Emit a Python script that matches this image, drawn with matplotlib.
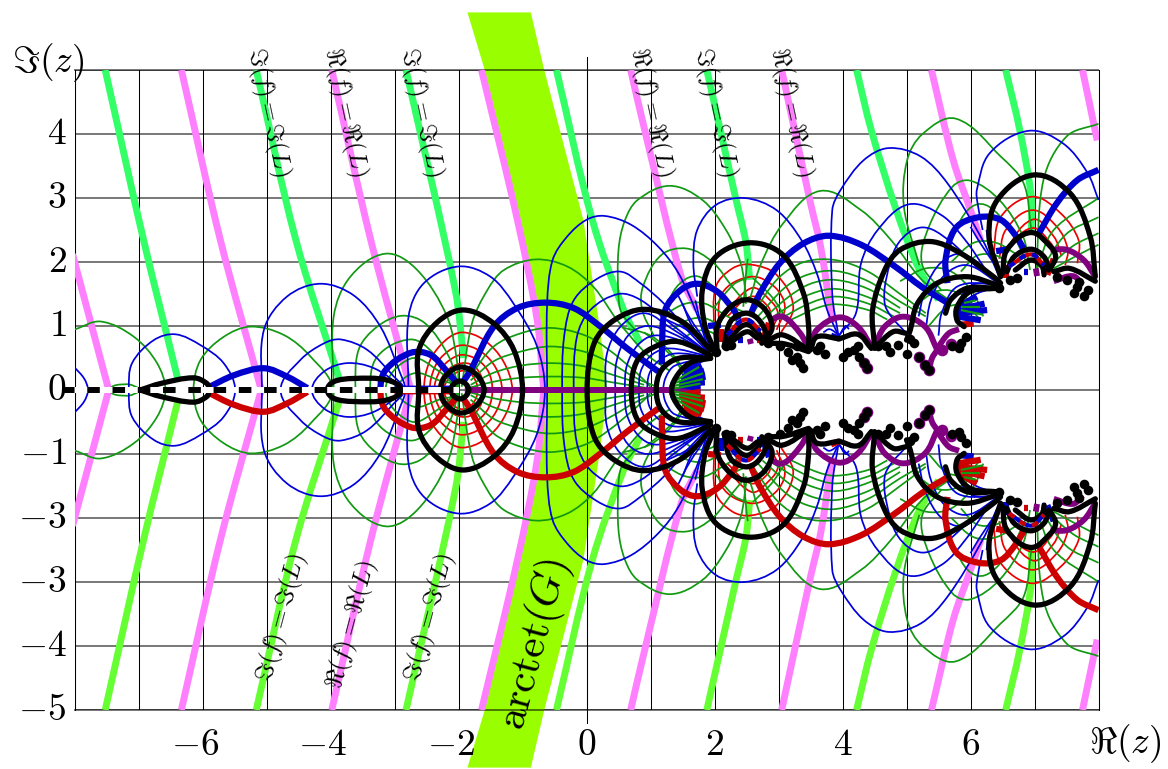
import math

import matplotlib
matplotlib.use('Agg')
import matplotlib.pyplot as plt
from matplotlib.patches import PathPatch, Polygon
from matplotlib.path import Path

plt.rcParams['mathtext.fontset'] = 'cm'
plt.rcParams['font.family'] = ['cmr10', 'DejaVu Serif']
plt.rcParams['axes.formatter.use_mathtext'] = True

# ---------------------------------------------------------------------------
# Data (upper half plane, the lower half is its mirror)
# ---------------------------------------------------------------------------
X_TICKS = [-6, -4, -2, 0, 2, 4, 6]
X_TICK_LABELS = ['$-6$', '$-4$', '$-2$', '$0$', '$2$', '$4$', '$6$']
Y_TICKS = [4, 3, 2, 1, 0, -1, -2, -3, -4, -5]
Y_TICK_LABELS = ['$4$', '$3$', '$2$', '$1$', '$0$', '$-1$', '$-3$', '$-3$', '$-4$', '$-5$']

BAND_LEFT = [(-1.86, 5.9), (-1.59, 5.0), (-1.03, 2.66), (-.72, 1.09), (-.62, 0)]
BAND_RIGHT = [(-.87, 5.9), (-.66, 5.0), (-.17, 3.12), (-.05, 2.66), (.19, 1.09), (.33, 0)]

# straight-ish level lines far from the real axis
PINK_LINES = [
    [(-8.03, 2.12), (-7.47, 0.02)],
    [(-6.33, 5.0), (-5.72, 2.34), (-5.09, 0.03)],
    [(-3.98, 5.0), (-3.37, 2.34), (-2.75, 0.02)],
    [(-1.64, 5.0), (-1.08, 2.66), (-.77, 1.09), (-.67, 0.02)],
    [(.69, 5.0), (.91, 4.06), (1.48, 1.77), (1.73, 1.25)],
    [(3.05, 5.0), (3.5, 2.92), (3.66, 2.23), (3.84, 1.05)],
    [(5.39, 5.0), (5.73, 3.59), (6.0, 2.81), (6.16, 2.34)],
    [(7.75, 5.0), (7.98, 3.9)],
]
GREEN_LINES = [
    [(-7.52, 5.0), (-6.92, 2.34), (-6.39, 0.19)],
    [(-5.16, 5.0), (-4.54, 2.34), (-3.87, 0.19)],
    [(-2.82, 5.0), (-2.05, 1.56), (-1.92, 0.5)],
    [(-.47, 5.0), (.09, 2.66), (.58, 1.25), (.84, .73)],
    [(1.88, 5.0), (2.33, 3.0), (2.49, 2.31), (2.55, 1.72)],
    [(4.22, 5.0), (4.45, 4.06), (4.83, 2.84), (5.2, 1.88), (5.5, 1.41)],
    [(6.55, 5.0), (6.77, 4.06), (6.95, 3.02), (6.95, 2.5)],
]

# thin contours
THIN_BLUE = [
    [(-8.01, .365), (-7.85, .18), (-7.79, 0)],
    [(-7.15, 0), (-7.10, .42), (-6.76, .78), (-6.42, .87), (-6.03, .70), (-5.67, .42), (-5.49, 0)],
    [(-5.07, 0), (-5.04, .94), (-4.68, 1.46), (-4.16, 1.66), (-3.64, 1.48), (-3.22, .99), (-2.91, .26), (-2.83, 0)],
    [(-4.78, 0), (-4.47, .47), (-4.10, .73), (-3.84, .79), (-3.43, .63), (-3.01, .21), (-2.85, 0)],
    [(-4.29, 0), (-4.10, .29), (-3.74, .42), (-3.32, .34), (-2.85, .03)],
    [(-2.78, 0), (-2.78, 1.15), (-2.54, 1.67), (-2.0, 1.93), (-1.5, 1.77), (-1.14, 1.35), (-.78, .7), (-.65, 0)],
    [(-.615, 0), (-.615, 1.35), (-.53, 2.03), (-.3, 2.4), (0, 2.66), (.28, 2.72), (.7, 2.58), (1.12, 2.24), (1.44, 1.82), (1.72, 1.2), (1.9, .65)],
    [(-.38, 0), (-.35, .83), (-.2, 1.4), (.17, 1.74), (.53, 1.85), (.84, 1.67), (1.21, 1.35), (1.62, .885), (1.9, .6)],
    [(-.2, 0), (-.15, .83), (.06, 1.25), (.5, 1.5), (.84, 1.41), (1.31, 1.04), (1.85, .62)],
    [(.3, 0), (.32, .57), (.53, .99), (.9, 1.2), (1.3, .98), (1.88, .6)],
    [(.45, 0), (.47, .45), (.65, .85), (.95, 1.0), (1.35, .88), (1.9, .58)],
    [(.6, 0), (.63, .38), (.8, .7), (1.05, .85), (1.45, .78), (1.9, .56)],
    [(.82, 0), (.85, .3), (1.02, .55), (1.3, .65), (1.9, .53)],
    [(.95, 0), (.98, .25), (1.12, .45), (1.38, .57), (1.9, .52)],
    [(1.2, 0), (1.24, .2), (1.38, .38), (1.9, .5)],
    [(1.3, 0), (1.34, .14), (1.48, .3), (1.9, .48)],
    [(1.73, 1.46), (1.67, 1.98), (1.73, 2.5), (2.02, 2.89), (2.47, 3.0), (2.97, 2.81), (3.36, 2.34), (3.6, 1.82), (3.76, 1.25), (3.92, .885)],
    [(3.94, .83), (3.84, 1.5), (3.84, 2.81), (3.97, 3.125), (4.33, 3.59), (4.72, 3.78), (5.22, 3.65), (5.64, 3.23), (6.19, 2.34), (6.45, 1.77)],
    [(3.94, .85), (4.21, 1.2), (4.29, 1.98), (4.55, 2.5), (5.03, 2.9), (5.55, 2.73), (5.92, 2.34), (6.24, 1.875)],
    [(5.0, .885), (4.76, 1.15), (4.66, 1.35), (4.68, 1.72), (4.87, 2.29), (5.24, 2.54), (5.66, 2.34), (6.14, 1.875)],
    [(1.42, 1.5), (1.6, 1.15), (1.9, .7)],
    [(1.5, 1.35), (1.65, 1.0), (1.9, .7)],
    [(1.7, 1.4), (1.8, 1.0), (1.92, .7)],
    [(1.25, 1.1), (1.55, .95), (1.92, .68)],
    [(5.19, 1.15), (5.3, 1.6), (5.55, 2.0), (5.9, 2.12), (6.42, 1.7)],
    [(5.3, .95), (5.38, 1.4), (5.6, 1.8), (5.95, 1.95), (6.42, 1.68)],
    [(5.5, .85), (5.55, 1.2), (5.8, 1.62), (6.42, 1.66)],
    [(5.78, 1.2), (5.85, 1.45), (6.05, 1.65), (6.42, 1.65)],
    [(5.9, 1.25), (6.0, 1.45), (6.42, 1.62)],
    [(6.19, 2.5), (6.11, 2.92), (6.1, 3.13), (6.3, 3.7), (6.91, 4.05), (7.45, 3.85), (7.83, 3.39), (8.0, 2.97)],
    [(3.7, .9), (3.8, .95), (3.95, .85)],
    [(4.1, .95), (4.05, 1.0), (3.95, .85)],
    [(6.0, 2.55), (6.15, 2.3), (6.42, 1.9)],
    [(6.25, 2.5), (6.3, 2.2), (6.45, 1.85)],
]
THIN_GREEN = [
    [(-8.01, .94), (-7.59, 1.07), (-7.07, .83), (-6.71, .42), (-6.58, 0)],
    [(-7.44, 0), (-7.18, .09), (-6.97, .02)],
    [(-6.14, 0), (-6.03, .47), (-5.67, .83), (-5.25, .99), (-4.73, .86), (-4.31, .52), (-3.97, 0)],
    [(-3.95, 0), (-3.95, 1.15), (-3.69, 1.77), (-3.14, 2.13), (-2.65, 1.88), (-2.18, 1.15), (-2.02, .42), (-2.0, 0)],
    [(-3.61, 0), (-3.56, .63), (-3.27, .99), (-2.88, 1.16), (-2.52, 1.04), (-2.15, .52), (-2.0, .05)],
    [(-3.38, 0), (-3.27, .52), (-2.75, .79), (-2.39, .57), (-2.0, .03)],
    [(-3.14, 0), (-2.75, .49), (-2.33, .31), (-2.0, .01)],
    [(-2.96, 0), (-2.7, .26), (-2.33, .16), (-2.0, 0)],
    [(-1.95, .05), (-1.79, 1.04), (-1.55, 1.56), (-1.29, 1.875), (-.8, 2.04), (-.3, 1.93), (.11, 1.61), (.48, 1.09), (.95, .55), (1.3, .3)],
    [(-1.81, .23), (-1.45, .68), (-1.03, .885), (-.56, .97), (-.04, .86), (.32, .65), (.79, .26), (1.0, .05)],
    [(-1.81, .15), (-1.45, .45), (-1.03, .6), (-.56, .68), (-.04, .6), (.32, .45), (.79, .18), (1.1, .05)],
    [(-1.81, .08), (-1.45, .27), (-1.03, .38), (-.56, .42), (-.04, .37), (.4, .24), (.9, .08)],
    [(-1.85, .03), (-1.45, .13), (-1.03, .19), (-.56, .21), (-.04, .19), (.4, .12), (.95, .03)],
    [(.75, .95), (.55, 1.2), (.5, 1.46), (.5, 2.19), (.6, 2.65), (.8, 2.97), (1.3, 3.19), (1.81, 2.97), (2.18, 2.5), (2.41, 1.98), (2.5, 1.41)],
    [(1.05, .85), (.87, 1.25), (.88, 1.61), (1.17, 2.11), (1.57, 2.21), (1.97, 2.0), (2.28, 1.61), (2.5, 1.35)],
    [(1.2, 1.15), (1.4, 1.6), (1.7, 1.78), (2.0, 1.6), (2.3, 1.3), (2.5, 1.2)],
    [(.55, .98), (1.0, .85), (1.35, .55), (1.55, .25), (1.62, 0)],
    [(.9, .9), (1.15, .7), (1.4, .45), (1.55, .15)],
    [(1.25, 1.2), (1.55, 1.35), (1.85, 1.35), (2.2, 1.15), (2.4, 1.05)],
    [(1.35, .95), (1.6, 1.1), (1.85, 1.12), (2.1, 1.0)],
    [(1.5, .8), (1.7, .92), (1.9, .92), (2.05, .85)],
    [(2.55, 1.41), (2.73, 1.98), (3.07, 2.6), (3.65, 3.11), (4.29, 2.81), (4.76, 2.34), (5.24, 1.72), (5.66, 1.41)],
    [(2.6, 1.2), (3.0, 1.75), (3.4, 2.0), (3.89, 2.03), (4.4, 1.85), (4.9, 1.5), (5.3, 1.2)],
    [(2.68, 1.15), (3.1, 1.6), (3.45, 1.8), (3.89, 1.86), (4.4, 1.7), (4.9, 1.38), (5.3, 1.15)],
    [(2.75, 1.1), (3.15, 1.45), (3.5, 1.66), (3.89, 1.72), (4.4, 1.58), (4.9, 1.28)],
    [(2.85, 1.1), (3.2, 1.33), (3.5, 1.5), (3.89, 1.58), (4.4, 1.45), (4.9, 1.2)],
    [(3.0, 1.1), (3.5, 1.36), (3.89, 1.46), (4.4, 1.35), (4.8, 1.15)],
    [(3.2, 1.1), (3.6, 1.28), (3.89, 1.34), (4.4, 1.25), (4.7, 1.1)],
    [(5.2, 1.95), (4.96, 2.86), (5.01, 3.59), (5.25, 4.0), (5.77, 4.24), (6.47, 3.65), (6.83, 3.23), (6.95, 2.5)],
    [(5.55, 1.55), (5.24, 1.98), (5.35, 2.55), (5.72, 3.18), (6.0, 3.27), (6.45, 2.97), (6.82, 2.4), (6.93, 1.875)],
    [(5.66, 2.34), (6.1, 2.9), (6.56, 2.6), (6.88, 1.98)],
    [(7.03, 1.875), (7.14, 3.28), (7.5, 3.96), (8.0, 4.16)],
    [(7.03, 1.875), (7.3, 2.5), (8.0, 3.0)],
    [(7.1, 1.875), (7.5, 2.44), (8.0, 2.7)],
    [(7.2, 1.9), (7.6, 2.25), (8.0, 2.45)],
    [(7.3, 1.9), (7.7, 2.12), (8.0, 2.27)],
    [(4.9, 1.7), (5.3, 1.9), (5.7, 1.85), (6.05, 1.5), (6.2, 1.15)],
    [(5.1, 1.3), (5.5, 1.55), (5.85, 1.5), (6.1, 1.25)],
    [(5.3, .95), (5.65, 1.3), (5.95, 1.3), (6.15, 1.1)],
    [(5.7, 2.0), (6.05, 2.3), (6.4, 2.3), (6.75, 2.1)],
    [(5.85, 1.85), (6.1, 2.1), (6.4, 2.1), (6.65, 1.95)],
    [(2.0, 1.3), (2.3, 1.65), (2.5, 1.75)],
    [(2.6, 1.75), (2.9, 1.45), (3.1, 1.15)],
    [(2.45, 1.3), (2.5, 1.9), (2.52, 2.05)],
]
THIN_RED = [
    [(-2.54, 0), (-2.45, .45), (-2.2, .78), (-1.94, .9), (-1.6, .78), (-1.3, .45), (-1.16, 0)],
    [(-2.45, 0), (-2.36, .38), (-2.17, .6), (-1.94, .7), (-1.65, .6), (-1.42, .35), (-1.32, 0)],
    [(-2.38, 0), (-2.28, .32), (-2.12, .48), (-1.94, .55), (-1.7, .47), (-1.53, .28), (-1.47, 0)],
    [(-2.31, 0), (-2.2, .28), (-1.94, .42), (-1.72, .34), (-1.6, 0)],
    [(-2.23, 0), (-2.13, .2), (-1.94, .3), (-1.78, .22), (-1.7, 0)],
    [(1.99, .94), (2.02, 1.61), (2.28, 1.9), (2.57, 1.96), (2.97, 1.8), (3.23, 1.3), (3.02, .86)],
    [(2.07, .885), (2.12, 1.51), (2.57, 1.77), (2.94, 1.61), (3.1, 1.3), (2.97, .94)],
    [(2.1, 1.09), (2.57, 1.59), (2.86, 1.41), (2.99, 1.2), (2.89, .94)],
    [(2.2, 1.15), (2.57, 1.46), (2.84, 1.3), (2.89, 1.09)],
    [(6.36, 2.14), (6.47, 2.7), (6.96, 3.02), (7.41, 2.76), (7.69, 2.34), (7.67, 1.98)],
    [(6.45, 2.05), (6.55, 2.5), (6.96, 2.81), (7.35, 2.55), (7.52, 2.2), (7.48, 1.95)],
    [(6.5, 2.1), (6.96, 2.66), (7.3, 2.4), (7.42, 2.1)],
    [(6.55, 2.2), (6.96, 2.53), (7.25, 2.3), (7.35, 2.1)],
]

# thick contours, blue above the real axis, red below it
THICK_BLUE = [
    [(-5.93, .03), (-5.51, .23), (-5.04, .34), (-4.68, .21), (-4.36, .03)],
    [(-3.22, 0), (-3.14, .31), (-2.75, .58), (-2.44, .55), (-2.18, .29), (-2.02, .1)],
    [(-3.0, .02), (-2.5, .02), (-2.05, .02)],
    [(-1.92, .14), (-1.81, .31), (-1.45, .99), (-1.08, 1.28), (-.64, 1.365), (-.2, 1.28), (.22, .99), (.635, .65), (1.12, .29)],
    [(1.18, .4), (1.18, .68), (1.23, 1.25), (1.47, 1.56), (1.73, 1.66), (2.04, 1.54), (2.3, 1.25), (2.38, 1.1)],
    [(2.55, 1.15), (2.71, 1.51), (3.02, 1.98), (3.39, 2.29), (3.79, 2.41), (4.29, 2.27), (4.82, 1.93), (5.24, 1.61), (5.66, 1.35)],
    [(5.64, 1.67), (5.61, 2.03), (5.77, 2.53), (6.13, 2.7), (6.47, 2.66), (6.7, 2.42), (6.83, 2.21)],
    [(7.07, 2.45), (7.35, 2.92), (7.67, 3.28), (8.0, 3.44)],
    [(1.45, .08), (1.78, .03)],
    [(1.45, .1), (1.85, .12)],
    [(1.48, .14), (1.86, .21)],
    [(1.5, .2), (1.84, .3)],
    [(1.52, .26), (1.8, .38)],
    [(1.55, .33), (1.72, .45)],
    [(2.37, .78), (2.45, .78)],
    [(1.9, 1.0), (2.1, 1.02)],
    [(5.79, 1.2), (6.26, 1.25)],
    [(5.79, 1.25), (6.22, 1.35)],
    [(5.8, 1.3), (6.1, 1.46)],
    [(5.79, 1.15), (6.16, 1.09)],
    [(6.4, 2.17), (6.6, 2.2)],
    [(3.82, .85), (3.95, .8)],
    [(6.83, 1.85), (6.9, 1.85)],
]
THICK_RED = [
    [(2.66, .78), (2.72, .78)],
    [(2.1, .75), (2.1, .95)],
    [(2.75, .75), (2.85, 1.05)],
    [(7.12, 1.82), (7.18, 1.82)],
    [(6.55, 1.75), (6.55, 1.95)],
    [(7.2, 1.8), (7.3, 2.05)],
    [(5.85, 1.02), (6.05, 1.04)],
]
THICK_PURPLE = [
    [(-1.9, 0.001), (.0, 0.001), (1.78, 0.001)],
    [(2.55, .8), (2.57, .72)],
    [(2.86, 1.09), (3.07, 1.146), (3.34, .885), (3.47, .65)],
    [(3.5, .68), (3.6, .94), (3.95, 1.135), (4.24, .99), (4.45, .68)],
    [(4.5, .68), (4.66, .99), (4.95, 1.146), (5.29, .99), (5.48, .625)],
    [(5.5, .68), (5.66, .885), (5.82, .95)],
    [(5.35, .31), (5.4, .5), (5.48, .625)],
    [(7.02, 1.9), (7.04, 1.78)],
    [(7.25, 2.19), (7.51, 2.19), (7.77, 2.03), (7.95, 1.77)],
    [(7.3, 1.7), (7.6, 1.78), (7.75, 1.65)],
]
THICK_BLACK = [
    [(-6.97, .001), (-6.66, .10), (-6.14, .19), (-5.93, .1), (-5.9, 0)],
    [(-4.05, 0), (-3.95, .13), (-3.64, .18), (-3.12, .156), (-2.9, 0)],
    [(-2.62, 0), (-2.62, .625), (-2.33, 1.06), (-1.92, 1.25), (-1.45, 1.04), (-1.135, .625), (-1.0, 0)],
    [(-2.28, 0), (-2.2, .22), (-1.97, .36), (-1.72, .24), (-1.6, 0)],
    [(-2.12, 0), (-1.98, .14), (-1.84, 0)],
    [(.01, 0), (.12, .73), (.43, 1.09), (.91, 1.26), (1.49, 1.07), (1.94, .625)],
    [(.70, 0), (.80, .47), (1.12, .70), (1.44, .755), (1.94, .547)],
    [(1.09, 0), (1.17, .31), (1.44, .495), (1.94, .495)],
    [(1.33, 0), (1.44, .26), (1.65, .44), (1.94, .495)],
    [(2.0, .62), (1.85, 1.0), (1.81, 1.56), (2.02, 2.08), (2.55, 2.30), (3.07, 2.11), (3.39, 1.51), (3.47, 1.0), (3.47, .65)],
    [(2.04, .625), (2.04, .99), (2.25, 1.3), (2.51, 1.41), (2.77, 1.28), (2.9, .99), (2.8, .78)],
    [(2.15, .68), (2.25, 1.07), (2.48, 1.2), (2.67, 1.12), (2.8, .885), (2.74, .73)],
    [(2.22, .78), (2.48, 1.02), (2.69, .885), (2.74, .75)],
    [(2.3, .78), (2.51, .91), (2.67, .81)],
    [(2.84, .78), (3.07, .86), (3.47, .625)],
    [(2.9, .73), (3.1, .72), (3.47, .6)],
    [(3.5, .625), (3.6, .83), (3.95, .8)],
    [(3.95, .8), (4.24, .87), (4.45, .65)],
    [(4.5, .65), (4.79, .91), (5.0, .885)],
    [(4.5, .68), (4.47, 1.25), (4.66, 1.875), (4.9, 2.19), (5.375, 2.32), (5.84, 2.14), (6.36, 1.77), (6.47, 1.67)],
    [(5.0, .78), (5.06, .94), (5.17, 1.35), (5.48, 1.67), (5.95, 1.77), (6.42, 1.64)],
    [(5.61, 1.2), (5.69, 1.41), (5.95, 1.59), (6.42, 1.59)],
    [(5.9, .99), (5.79, 1.09), (5.79, 1.3), (6.0, 1.54), (6.42, 1.59)],
    [(6.47, 1.77), (6.29, 2.4), (6.42, 2.97), (6.99, 3.36), (7.56, 3.07), (7.87, 2.4), (7.95, 1.77)],
    [(6.5, 1.82), (6.57, 2.19), (6.94, 2.46), (7.25, 2.24), (7.33, 2.08), (7.25, 1.9)],
    [(6.57, 1.85), (6.68, 2.08), (6.94, 2.2), (7.15, 2.08), (7.22, 1.875)],
    [(6.7, 1.875), (6.94, 2.03), (7.12, 1.93), (7.15, 1.8)],
    [(7.3, 1.85), (7.55, 1.9), (7.95, 1.7)],
]
# fractal crumbs along the edge of the white gap
CRUMB_X = [2.02, 2.18, 2.26, 2.84, 3.02, 3.15, 3.29, 3.34, 3.39, 3.29, 3.21,
           3.6, 3.73, 3.65, 4.0, 4.08, 4.18, 4.26, 4.34, 4.39, 4.24,
           4.55, 4.68, 4.74, 4.87, 5.0, 5.11, 5.05, 5.19, 5.29, 5.35,
           5.71, 5.85, 5.93, 5.82, 6.45, 6.61, 6.72,
           7.35, 7.51, 7.67, 7.77, 7.61, 7.83, 7.69]
CRUMB_Y = [.6, .68, .7, .73, .68, .6, .52, .42, .34, .68, .47,
           .625, .57, .68, .52, .6, .625, .52, .42, .34, .68,
           .68, .68, .6, .7, .57, .73, .8, .52, .39, .31,
           .68, .73, .83, .65, 1.59, 1.72, 1.745,
           1.77, 1.72, 1.61, 1.47, 1.51, 1.56, 1.69]
PURPLE_CRUMB_X = [4.34, 4.39, 5.19, 5.29, 5.35, 5.55, 5.7]
PURPLE_CRUMB_Y = [.42, .34, .52, .39, .31, .62, .72]

THIN_GREEN_RAYS = [
    [(1.35, .02), (1.78, .1)],
    [(1.35, .06), (1.82, .17)],
    [(1.35, .1), (1.82, .26)],
    [(1.4, .15), (1.76, .36)],
    [(5.85, 1.25), (6.18, 1.18)],
    [(5.85, 1.3), (6.15, 1.3)],
    [(5.9, 1.36), (6.08, 1.4)],
]

# alternating blue / red cells on the inner arcs of the two upper lobes
LOBE_STRIPES = [
    [(2.2, .86), (2.48, 1.1), (2.72, .92)],
    [(6.6, 1.93), (6.94, 2.12), (7.15, 1.95)],
]

# rotated annotations
TOP_LABELS = ['$\\Im(f)=\\Im(L)$', '$\\Re(f)=\\Re(L)$', '$\\Im(f)=\\Im(L)$',
              '$\\Re(f)=\\Re(L)$', '$\\Im(f)=\\Im(L)$', '$\\Re(f)=\\Re(L)$']
TOP_LABEL_X = [-4.97, -3.77, -2.58, 1.0, 2.0, 3.19]
TOP_LABEL_Y = 4.34
BOTTOM_LABELS = ['$\\Im(f)=\\Im(L)$', '$\\Re(f)=\\Re(L)$', '$\\Im(f)=\\Im(L)$']
BOTTOM_LABEL_X = [-4.75, -3.66, -2.44]
BOTTOM_LABEL_Y = [-3.56, -3.67, -3.56]

BLUE = '#0000dd'
GREEN = '#119911'
RED = '#ee0000'
DARK_BLUE = '#0000cc'
DARK_RED = '#cc0000'
PURPLE = '#800080'
PINK = '#ff80ff'
GREEN_UP = '#33ff66'
GREEN_DOWN = '#66ff33'
BAND = '#99ff00'


def smooth_path(points):
    """Bezier through the read points; handles are a third of each chord."""
    pts = list(points)
    if len(pts) == 2:
        return Path(pts)
    before = (pts[1][0], -pts[1][1]) if pts[0][1] == 0 else None
    after = (pts[-2][0], -pts[-2][1]) if pts[-1][1] == 0 else None
    tangents = []
    for i, p in enumerate(pts):
        prev_pt = pts[i - 1] if i > 0 else before
        next_pt = pts[i + 1] if i < len(pts) - 1 else after
        if prev_pt is None:
            prev_pt = p
        if next_pt is None:
            next_pt = p
        dx, dy = next_pt[0] - prev_pt[0], next_pt[1] - prev_pt[1]
        norm = math.hypot(dx, dy) or 1.0
        tangents.append((dx / norm, dy / norm))
    verts = [pts[0]]
    codes = [Path.MOVETO]
    for i in range(len(pts) - 1):
        p1, p2 = pts[i], pts[i + 1]
        t1, t2 = tangents[i], tangents[i + 1]
        h = math.hypot(p2[0] - p1[0], p2[1] - p1[1]) / 3
        verts.append((p1[0] + t1[0] * h, p1[1] + t1[1] * h))
        verts.append((p2[0] - t2[0] * h, p2[1] - t2[1] * h))
        verts.append(p2)
        codes += [Path.CURVE4] * 3
    return Path(verts, codes)


def draw_curve(ax, points, color, lw, zorder, cap='butt', dashes=None):
    patch = PathPatch(smooth_path(points), fill=False, edgecolor=color, linewidth=lw,
                      zorder=zorder, capstyle=cap, joinstyle='round')
    if dashes is not None:
        patch.set_linestyle((0, dashes))
    ax.add_patch(patch)


def mirrored(points):
    return [(x, -y) for x, y in points]


def draw_pairs(ax, curves, color_up, color_down, lw, zorder, cap='butt'):
    for curve in curves:
        draw_curve(ax, curve, color_up, lw, zorder, cap)
        draw_curve(ax, mirrored(curve), color_down, lw, zorder, cap)


def main():
    fig = plt.figure(figsize=(11.68, 7.69), dpi=100)
    ax = fig.add_axes([74.5 / 1168, (769 - 710) / 769, 1024 / 1168, 640 / 769])
    ax.set_xlim(-8, 8)
    ax.set_ylim(-5, 5)

    ax.set_xticks(range(-8, 9))
    ax.set_yticks(range(-5, 6))
    ax.tick_params(length=0, labelbottom=False, labelleft=False)
    ax.grid(True, color='black', linewidth=0.75, zorder=1.5)
    ax.set_axisbelow(True)
    for line in ax.get_ygridlines():
        line.set_snap(False)
    for spine in ax.spines.values():
        spine.set_linewidth(0.75)
        spine.set_zorder(1.5)
    ax.spines['top'].set_snap(False)
    ax.spines['bottom'].set_snap(False)
    ax.plot([0, 0], [-5.2, 5.2], color='black', lw=0.75, clip_on=False, zorder=1.5)

    outline = BAND_LEFT + mirrored(BAND_LEFT)[::-1] + mirrored(BAND_RIGHT) + BAND_RIGHT[::-1]
    ax.add_patch(Polygon(outline, closed=True, facecolor=BAND, edgecolor='none',
                         zorder=1, clip_on=False))

    for curve in PINK_LINES:
        draw_curve(ax, curve, PINK, 5.0, 2)
        draw_curve(ax, mirrored(curve), PINK, 5.0, 2)
    for curve in GREEN_LINES:
        draw_curve(ax, curve, GREEN_UP, 5.0, 2)
        draw_curve(ax, mirrored(curve), GREEN_DOWN, 5.0, 2)

    draw_pairs(ax, THIN_RED, RED, RED, 1.25, 3)
    draw_pairs(ax, THIN_GREEN, GREEN, GREEN, 1.25, 3)
    draw_pairs(ax, THIN_BLUE, BLUE, BLUE, 1.25, 3)
    draw_pairs(ax, THICK_PURPLE, PURPLE, PURPLE, 4.2, 4)
    draw_pairs(ax, THICK_RED, DARK_RED, DARK_BLUE, 4.5, 4)
    draw_pairs(ax, THICK_BLUE, DARK_BLUE, DARK_RED, 4.5, 4)
    draw_pairs(ax, THIN_GREEN_RAYS, GREEN, GREEN, 1.6, 4.5)
    draw_pairs(ax, THICK_BLACK, 'black', 'black', 3.8, 5, cap='round')
    for curve in LOBE_STRIPES:
        draw_curve(ax, curve, DARK_RED, 3.0, 5.5)
        draw_curve(ax, curve, DARK_BLUE, 3.0, 5.6, dashes=(1.6, 1.6))
        draw_curve(ax, mirrored(curve), DARK_BLUE, 3.0, 5.5)
        draw_curve(ax, mirrored(curve), DARK_RED, 3.0, 5.6, dashes=(1.6, 1.6))

    for sign in (1, -1):
        ax.scatter(PURPLE_CRUMB_X, [sign * y for y in PURPLE_CRUMB_Y], s=70, color=PURPLE,
                   linewidths=0, zorder=4.8)
        ax.scatter(CRUMB_X, [sign * y for y in CRUMB_Y], s=48, color='black',
                   linewidths=0, zorder=5)

    # dashed segment along the real axis
    ax.plot([-8.2, -2.0], [0, 0], color='white', lw=4.3, clip_on=False, zorder=6,
            solid_capstyle='butt')
    ax.plot([-8.2, -2.0], [0, 0], color='black', lw=4.3, clip_on=False, zorder=6,
            linestyle=(0, (2.1, 2.13)), dash_capstyle='butt')

    for x, label in zip(X_TICKS, X_TICK_LABELS):
        shift = -0.12 if x < 0 else 0
        ax.text(x + shift, -5.55, label, fontsize=27, ha='center', va='center', clip_on=False, zorder=8)
    for y, label in zip(Y_TICKS, Y_TICK_LABELS):
        ax.text(-8.125, y, label, fontsize=27, ha='right', va='center', clip_on=False, zorder=8)
    ax.text(-8.42, 5.12, '$\\Im(z)$', fontsize=27, ha='center', va='center', clip_on=False, zorder=8)
    ax.text(8.41, -5.52, '$\\Re(z)$', fontsize=27, ha='center', va='center', clip_on=False, zorder=8)

    for x, label in zip(TOP_LABEL_X, TOP_LABELS):
        ax.text(x, TOP_LABEL_Y, label, fontsize=18, rotation=-78, rotation_mode='anchor',
                ha='center', va='center', clip_on=False, zorder=8)
    for x, y, label in zip(BOTTOM_LABEL_X, BOTTOM_LABEL_Y, BOTTOM_LABELS):
        ax.text(x, y, label, fontsize=18, rotation=75, rotation_mode='anchor',
                ha='center', va='center', clip_on=False, zorder=8)
    ax.text(-.8, -3.98, '$\\mathrm{arctet}(G)$', fontsize=31, rotation=75, rotation_mode='anchor',
            ha='center', va='center', clip_on=False, zorder=8)

    plt.savefig('out.png', dpi=100)
    plt.close(fig)


if __name__ == '__main__':
    main()
